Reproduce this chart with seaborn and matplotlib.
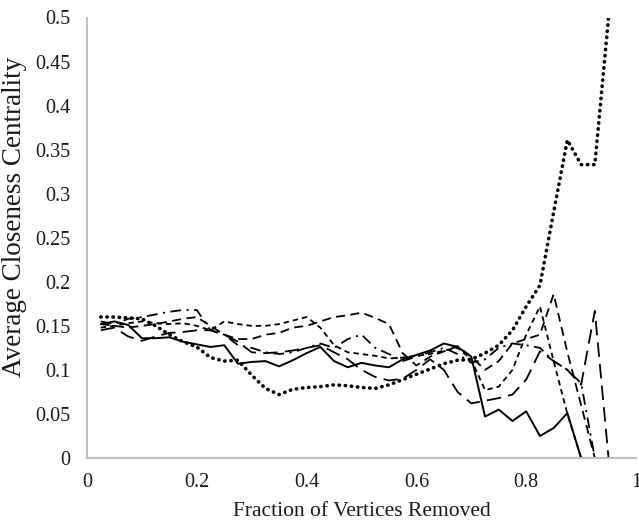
import numpy as np
import pandas as pd
import matplotlib
matplotlib.use("Agg")
import matplotlib.pyplot as plt
import seaborn as sns

# Fraction of vertices removed (one sample every 0.025)
fraction_removed = [round(0.025 * i, 3) for i in range(1, 39)]

solid_series = [0.152, 0.155, 0.151, 0.136, 0.136, 0.137, 0.132, 0.129, 0.126, 0.128,
                0.107, 0.109, 0.110, 0.104, 0.111, 0.119, 0.126, 0.110, 0.103, 0.108,
                0.105, 0.103, 0.112, 0.117, 0.122, 0.130, 0.126, 0.115, 0.047, 0.055,
                0.042, 0.053, 0.025, 0.034, 0.051, 0.0, 0.0, 0.0]

dotted_series = [0.160, 0.160, 0.159, 0.158, 0.150, 0.140, 0.132, 0.126, 0.114, 0.110,
                 0.111, 0.094, 0.079, 0.072, 0.078, 0.080, 0.081, 0.083, 0.082, 0.080,
                 0.079, 0.083, 0.089, 0.095, 0.101, 0.107, 0.111, 0.112, 0.119, 0.128,
                 0.145, 0.172, 0.196, 0.279, 0.361, 0.333, 0.333, 0.500]

short_dash_series = [0.148, 0.150, 0.153, 0.155, 0.153, 0.152, 0.153, 0.150, 0.145, 0.155,
                     0.152, 0.150, 0.150, 0.152, 0.156, 0.160, 0.148, 0.128, 0.120, 0.118,
                     0.116, 0.113, 0.114, 0.116, 0.118, 0.122, 0.125, 0.112, 0.077, 0.081,
                     0.100, 0.140, 0.172, 0.110, 0.050, 0.0, 0.0, 0.0]

dash_series = [0.152, 0.150, 0.148, 0.150, 0.152, 0.155, 0.158, 0.160, 0.150, 0.140,
               0.135, 0.135, 0.140, 0.142, 0.148, 0.150, 0.155, 0.160, 0.162, 0.165,
               0.159, 0.152, 0.119, 0.105, 0.115, 0.121, 0.127, 0.115, 0.100, 0.110,
               0.130, 0.135, 0.140, 0.186, 0.120, 0.060, 0.0, 0.0]

long_dash_series = [0.145, 0.148, 0.138, 0.133, 0.138, 0.142, 0.143, 0.145, 0.145, 0.140,
                    0.132, 0.120, 0.119, 0.120, 0.122, 0.125, 0.128, 0.120, 0.112, 0.100,
                    0.092, 0.088, 0.090, 0.100, 0.112, 0.100, 0.075, 0.062, 0.065, 0.068,
                    0.072, 0.089, 0.121, 0.110, 0.100, 0.083, 0.167, 0.0]

dash_dot_series = [0.155, 0.152, 0.158, 0.160, 0.163, 0.166, 0.168, 0.168, 0.145, 0.140,
                   0.128, 0.125, 0.120, 0.118, 0.120, 0.125, 0.130, 0.125, 0.135, 0.140,
                   0.125, 0.118, 0.110, 0.115, 0.120, 0.125, 0.118, 0.108, 0.112, 0.125,
                   0.130, 0.128, 0.125, 0.110, 0.100, 0.085, 0.0, 0.0]

x_ticks = [0, 0.2, 0.4, 0.6, 0.8, 1]
x_tick_labels = ["0", "0.2", "0.4", "0.6", "0.8", "1"]
y_ticks = [0, 0.05, 0.1, 0.15, 0.2, 0.25, 0.3, 0.35, 0.4, 0.45, 0.5]
y_tick_labels = ["0", "0.05", "0.1", "0.15", "0.2", "0.25", "0.3", "0.35", "0.4", "0.45", "0.5"]

series = {
    "solid": solid_series,
    "dotted": dotted_series,
    "short dash": short_dash_series,
    "dash": dash_series,
    "long dash": long_dash_series,
    "dash dot": dash_dot_series,
}

line_styles = {
    "solid": dict(linestyle="-", linewidth=1.4),
    "dotted": dict(linestyle=(0, (0.1, 1.6)), linewidth=2.6, dash_capstyle="round",
                   solid_capstyle="round"),
    "short dash": dict(linestyle=(0, (3.0, 2.2)), linewidth=1.3),
    "dash": dict(linestyle=(0, (5.0, 3.0)), linewidth=1.3),
    "long dash": dict(linestyle=(0, (8.0, 4.0)), linewidth=1.3),
    "dash dot": dict(linestyle=(0, (6.0, 3.0, 1.2, 3.0)), linewidth=1.3),
}

sns.set_style("white")
plt.rcParams["font.family"] = ["Liberation Serif", "DejaVu Serif"]

fig = plt.figure(figsize=(6.39, 5.23), dpi=100)
ax = fig.add_axes([87 / 639, 65 / 523, 549 / 639, 440.5 / 523])

for name, values in series.items():
    df = pd.DataFrame({"x": fraction_removed, "y": values})
    sns.lineplot(data=df, x="x", y="y", ax=ax, color="black", estimator=None,
                 sort=False, legend=False, **line_styles[name])

ax.set_xlim(0, 1)
ax.set_ylim(0, 0.5)
ax.set_xticks(x_ticks)
ax.set_xticklabels(x_tick_labels)
ax.set_yticks(y_ticks)
ax.set_yticklabels(y_tick_labels)
ax.tick_params(axis="both", length=0, labelsize=14.5, colors="#1a1a1a")
ax.tick_params(axis="x", pad=11)
ax.tick_params(axis="y", pad=12)

for side in ["top", "right"]:
    ax.spines[side].set_visible(False)
for side in ["left", "bottom"]:
    ax.spines[side].set_color("#bfbfbf")
    ax.spines[side].set_linewidth(1.5)

ax.set_xlabel("Fraction of Vertices Removed", fontsize=15.5, color="#1a1a1a")
ax.xaxis.set_label_coords(0.5, -0.101)
ax.set_ylabel("Average Closeness Centrality", fontsize=19.5, color="#1a1a1a")
ax.yaxis.set_label_coords(-0.109, 0.547)
ax.grid(False)

fig.savefig("out.png", dpi=100)
